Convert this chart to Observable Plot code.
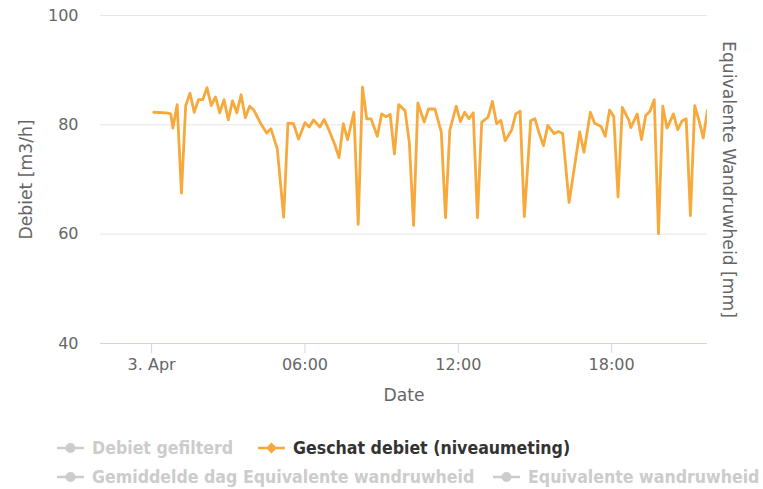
<!DOCTYPE html>
<html>
<head>
<meta charset="utf-8">
<script src="https://cdn.jsdelivr.net/npm/d3@7"></script>
<script src="https://cdn.jsdelivr.net/npm/@observablehq/plot@0.6"></script>
<style>
  html, body { margin: 0; padding: 0; background: #fff; }
  #wrap { position: relative; width: 763px; height: 489px; overflow: hidden; font-family: "DejaVu Sans", sans-serif; }
  #legend { position: absolute; left: 0; top: 430px; }
</style>
</head>
<body>
<div id="wrap"><div id="chart"></div><svg id="legend" width="763" height="59"></svg></div>
<script>
// Series: Geschat debiet (niveaumeting), 3 April (time of day, m3/h)
const times = ["00:05","00:35","00:45","00:50","01:00","01:10","01:20","01:30","01:40","01:50",
  "02:00","02:10","02:20","02:30","02:40","02:50","03:00","03:10","03:20","03:30",
  "03:40","03:50","04:00","04:15","04:30","04:40","04:55","05:10","05:20","05:33",
  "05:45","06:00","06:10","06:20","06:35","06:45","06:55","07:10","07:20","07:30",
  "07:40","07:55","08:05","08:15","08:25","08:35","08:50","09:00","09:10","09:20",
  "09:30","09:40","09:55","10:05","10:15","10:25","10:40","10:50","11:05","11:20",
  "11:30","11:40","11:55","12:05","12:15","12:25","12:35","12:45","12:55","13:10",
  "13:20","13:30","13:40","13:50","14:05","14:15","14:25","14:35","14:50","15:00",
  "15:10","15:20","15:30","15:45","15:55","16:05","16:20","16:35","16:45","16:55",
  "17:10","17:20","17:35","17:45","17:55","18:05","18:15","18:25","18:40","18:45",
  "19:00","19:10","19:20","19:30","19:40","19:50","20:00","20:10","20:25","20:35",
  "20:45","20:55","21:05","21:15","21:25","21:35","21:45"];
const values = [82.3,82.2,82.0,79.4,83.7,67.5,83.5,85.8,82.3,84.6,
  84.6,86.8,83.5,85.1,82.2,84.6,80.9,84.4,82.2,85.5,
  81.3,83.4,82.7,80.4,78.5,79.3,75.6,63.1,80.3,80.2,
  77.4,80.4,79.6,80.9,79.6,81.0,79.3,76.4,74.0,80.2,
  77.3,82.3,61.8,86.9,81.1,81.1,77.9,82.0,81.5,81.9,
  74.7,83.7,82.6,76.8,61.6,84.0,80.5,82.9,82.9,78.7,
  63.0,79.0,83.4,80.6,82.3,81.1,82.2,63.0,80.5,81.4,
  84.3,80.2,80.8,77.1,79.0,82.0,82.5,63.2,80.8,81.1,
  78.4,76.2,79.9,78.4,78.8,78.4,65.8,73.5,78.7,75.0,
  82.3,80.3,79.7,77.9,82.7,81.5,66.8,83.2,80.9,79.5,
  82.0,77.3,81.7,82.5,84.6,60.1,83.4,79.4,82.0,79.1,
  80.7,81.1,63.4,83.5,80.8,77.6,82.7];

const xTickTimes = ["00:00","06:00","12:00","18:00"];
const xTickLabels = ["3. Apr","06:00","12:00","18:00"];
const yTicks = [40, 60, 80, 100];
const xDomainTimes = ["-02:00", "21:45"]; // from 2 Apr 22:00 to 3 Apr 21:45

const legendItems = ["Debiet gefilterd", "Geschat debiet (niveaumeting)",
  "Gemiddelde dag Equivalente wandruwheid", "Equivalente wandruwheid"];
const legendActive = [false, true, false, false];

const toDate = s => {
  const neg = s.startsWith("-");
  const [h, m] = s.replace("-", "").split(":").map(Number);
  const mins = (neg ? -1 : 1) * (h * 60 + m);
  return new Date(Date.UTC(2024, 3, 3, 0, 0) + mins * 60000);
};

const data = times.map((t, i) => ({date: toDate(t), value: values[i]}));
const orange = "#f7a93c";
const gray = "#666666";

const chart = Plot.plot({
  width: 763,
  height: 410,
  marginLeft: 100,
  marginRight: 56,
  marginTop: 15,
  marginBottom: 67,
  style: {fontFamily: "DejaVu Sans, sans-serif", fontSize: "16px", color: gray, background: "#fff"},
  x: {type: "utc", domain: xDomainTimes.map(toDate)},
  y: {domain: [40, 100]},
  marks: [
    Plot.gridY(yTicks.filter(v => v > 40), {stroke: "#e6e6e6", strokeOpacity: 1, strokeWidth: 1}),
    Plot.ruleY([40], {stroke: "#ccd6eb", strokeWidth: 1}),
    Plot.axisY({ticks: yTicks, tickSize: 0, tickPadding: 22, label: null, fill: gray, fontSize: 16}),
    Plot.axisX({ticks: xTickTimes.map(toDate), tickSize: 10, tickPadding: 5, stroke: "#ccd6eb",
      tickFormat: d => xTickLabels[xTickTimes.map(toDate).findIndex(t => +t === +d)],
      label: null, fill: gray, fontSize: 16}),
    Plot.lineY(data, {x: "date", y: "value", stroke: orange, strokeWidth: 2.8, clip: true,
      strokeLinejoin: "round", strokeLinecap: "round"}),
    Plot.text(["Debiet [m3/h]"], {text: d => d, frameAnchor: "left", textAnchor: "middle", lineAnchor: "middle",
      dx: -74, rotate: -90, fill: gray, fontSize: 17.2}),
    Plot.text(["Equivalente Wandruwheid [mm]"], {text: d => d, frameAnchor: "right", textAnchor: "middle", lineAnchor: "middle",
      dx: 21, rotate: 90, fill: gray, fontSize: 17.2}),
    Plot.text(["Date"], {text: d => d, frameAnchor: "bottom", textAnchor: "middle", lineAnchor: "middle",
      dy: 52, fill: gray, fontSize: 17.2})
  ]
});
document.getElementById("chart").appendChild(chart);

// Legend
const leg = d3.select("#legend");
const legPos = [[57, 18], [258, 18], [57, 47], [493, 47]];
legendItems.forEach((name, i) => {
  const [x, y] = legPos[i];
  const c = legendActive[i] ? orange : "#cccccc";
  const g = leg.append("g");
  g.append("line").attr("x1", x).attr("x2", x + 27).attr("y1", y).attr("y2", y)
    .attr("stroke", c).attr("stroke-width", 2.5);
  if (i === 1) {
    g.append("path").attr("d", `M${x + 13.5},${y - 5.5}L${x + 19},${y}L${x + 13.5},${y + 5.5}L${x + 8},${y}Z`).attr("fill", c);
  } else {
    g.append("circle").attr("cx", x + 13.5).attr("cy", y).attr("r", 5).attr("fill", c);
  }
  g.append("text").attr("x", x + 35).attr("y", y).attr("dy", "0.35em")
    .attr("font-family", "DejaVu Sans Condensed, DejaVu Sans, sans-serif")
    .attr("font-weight", "bold").attr("font-size", 17.6)
    .attr("fill", legendActive[i] ? "#333333" : "#cccccc").text(name);
});
</script>
</body>
</html>
